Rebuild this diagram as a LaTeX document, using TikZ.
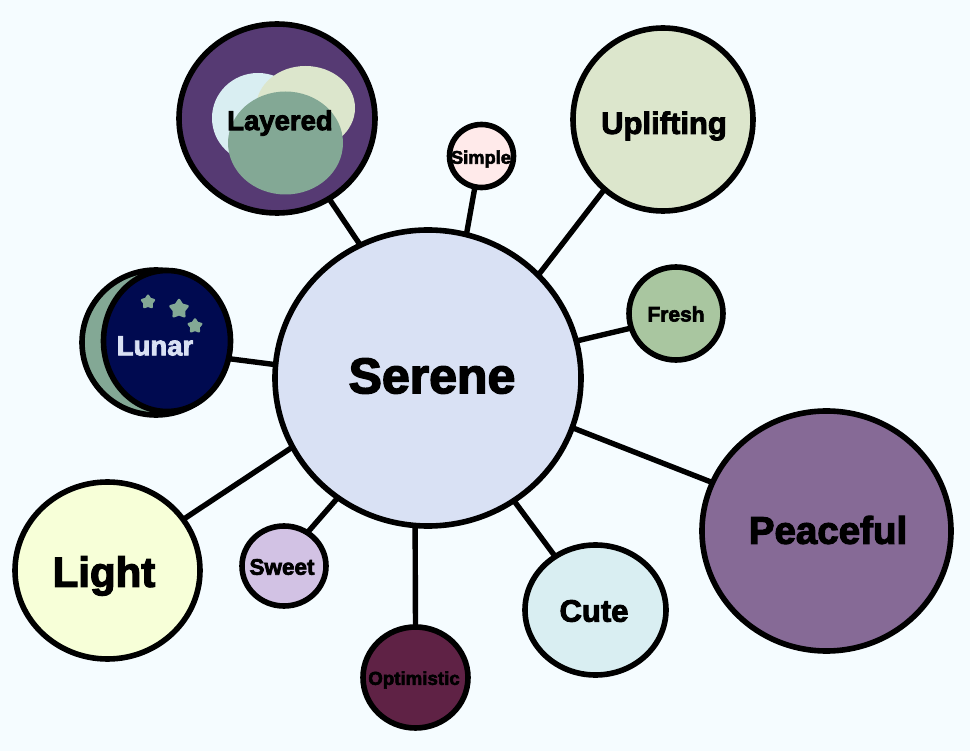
\documentclass[tikz,border=0pt]{standalone}
\usepackage{fontspec}
\newfontfamily\labfont{Liberation Sans}[BoldFont={Liberation Sans Bold},BoldFeatures={FakeBold=3}]
\usetikzlibrary{shapes.geometric}
\definecolor{bgc}{HTML}{F5FCFF}
\definecolor{serenec}{HTML}{D9E1F4}
\definecolor{purplec}{HTML}{563A73}
\definecolor{palec}{HTML}{D9EEF2}
\definecolor{sagec}{HTML}{DCE6CC}
\definecolor{greenc}{HTML}{83A895}
\definecolor{simplec}{HTML}{FFEAEA}
\definecolor{freshc}{HTML}{A9C6A0}
\definecolor{peacec}{HTML}{866A96}
\definecolor{optc}{HTML}{5F2245}
\definecolor{sweetc}{HTML}{D2C2E4}
\definecolor{lightc}{HTML}{F7FFD8}
\definecolor{navyc}{HTML}{000A50}
\tikzset{
  bubble/.style={shape=ellipse,draw=black,line width=5.6pt,inner sep=0pt,outer sep=0pt},
  blob/.style={shape=ellipse,inner sep=0pt,outer sep=0pt},
  link/.style={draw=black,line width=5.4pt},
  lab/.style={font=\labfont\bfseries\fontsize{#1}{#1}\selectfont,text=black,inner sep=0pt},
  starry/.style={shape=star,star points=5,star point ratio=1.7,fill=greenc,draw=greenc,line width=2.5pt,line join=round,inner sep=0pt,minimum size=#1}
}
\begin{document}
\begin{tikzpicture}[x=1pt,y=-1pt]
\useasboundingbox (0,0) rectangle (970,751);
\fill[bgc] (0,0) rectangle (970,751);
\node[bubble,fill=serenec,minimum width=306pt,minimum height=296pt] (serene) at (428,378) {};
\node[bubble,fill=purplec,minimum width=196pt,minimum height=189pt] (layered) at (277,118.5) {};
\node[blob,fill=palec,minimum width=92pt,minimum height=90pt] (layA) at (258,118) {};
\node[blob,fill=sagec,minimum width=99pt,minimum height=84pt] (layB) at (305.5,108) {};
\node[blob,fill=greenc,minimum width=115pt,minimum height=103pt] (layC) at (285.5,143) {};
\node[bubble,fill=simplec,minimum width=64pt,minimum height=63pt] (simple) at (481.5,156) {};
\node[bubble,fill=sagec,minimum width=180pt,minimum height=183pt] (uplifting) at (663,119.5) {};
\node[bubble,fill=freshc,minimum width=94pt,minimum height=93pt] (fresh) at (676,313.5) {};
\node[bubble,fill=peacec,minimum width=249pt,minimum height=240pt] (peaceful) at (826.5,531) {};
\node[bubble,fill=palec,minimum width=141pt,minimum height=130pt] (cute) at (595.5,610) {};
\node[bubble,fill=optc,minimum width=105pt,minimum height=101pt] (optimistic) at (415.5,677.5) {};
\node[bubble,fill=sweetc,minimum width=84pt,minimum height=80pt] (sweet) at (284,566) {};
\node[bubble,fill=lightc,minimum width=185pt,minimum height=177pt] (light) at (107.5,570.5) {};
\node[bubble,fill=greenc,minimum width=148pt,minimum height=145pt] (lunarback) at (156,342.5) {};
\node[bubble,fill=navyc,minimum width=127pt,minimum height=141pt] (lunar) at (167,341) {};
\node[starry=12.5pt] (starA) at (148,302) {};
\node[starry=18pt] (starB) at (179,309) {};
\node[starry=13pt] (starC) at (195,326) {};
\draw[link] (serene.117.2) -- (layered.-57.1);
\draw[link] (serene.75.8) -- (simple.258);
\draw[link] (serene.43.7) -- (uplifting.230);
\draw[link] (serene.14.5) -- (fresh.198.4);
\draw[link] (serene.-19.5) -- (peaceful.157.8);
\draw[link] (serene.-55.8) -- (cute.127.4);
\draw[link] (serene.-95) -- (optimistic.90);
\draw[link] (serene.233.3) -- (sweet.55.6);
\draw[link] (serene.207.2) -- (light.34.2);
\draw[link] (serene.175.6) -- (lunar.-16);
\node[lab=50pt] (tSerene) at (432,376) {Serene};
\node[lab=27.5pt] (tLayered) at (280,123) {Layered};
\node[lab=18.3pt] (tSimple) at (481,159) {Simple};
\node[lab=31pt] (tUplifting) at (664,126) {Uplifting};
\node[lab=21pt] (tFresh) at (676,314) {Fresh};
\node[lab=38.5pt] (tPeaceful) at (828,530) {Peaceful};
\node[lab=31pt] (tCute) at (594,611) {Cute};
\node[lab=18.7pt] (tOptimistic) at (414,680) {Optimistic};
\node[lab=22.5pt] (tSweet) at (282,567) {Sweet};
\node[lab=42pt] (tLight) at (104,576) {Light};
\node[lab=27.5pt,text=serenec] (tLunar) at (155,346) {Lunar};
\end{tikzpicture}
\end{document}
